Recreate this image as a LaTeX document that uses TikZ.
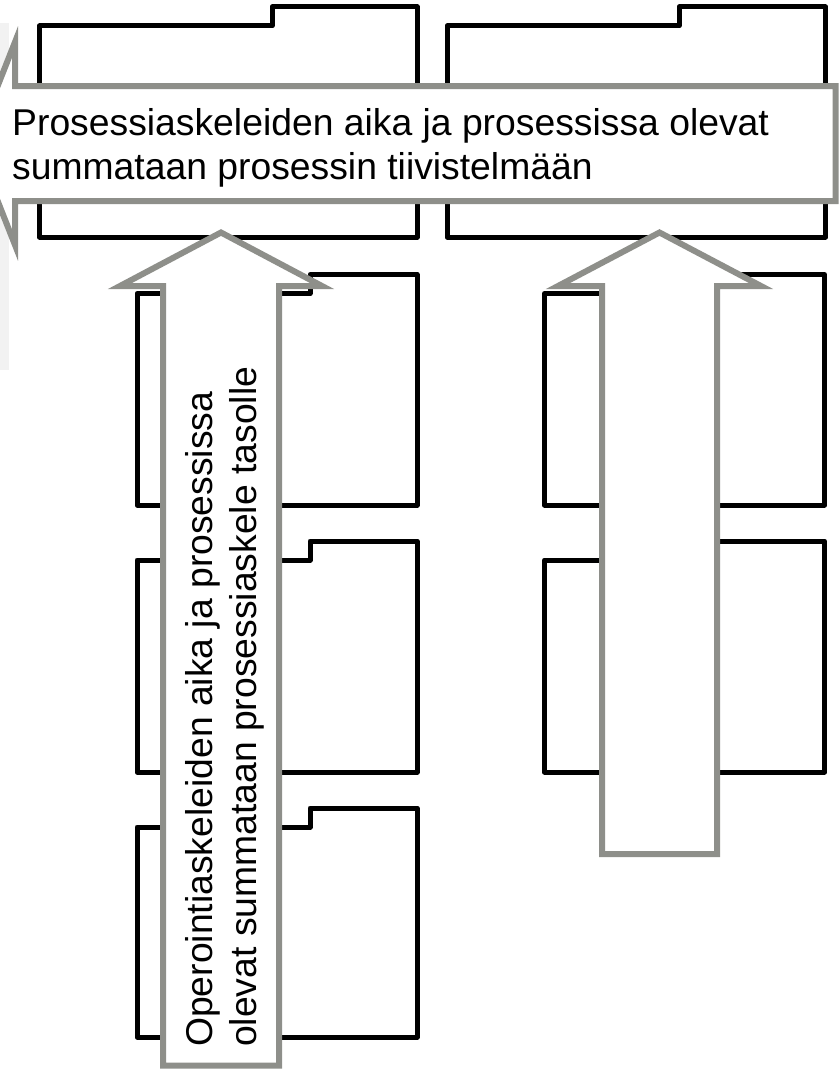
\documentclass[tikz,border=0pt]{standalone}
\usepackage{fontspec}
\setmainfont{Liberation Sans}
\definecolor{arrowgray}{RGB}{142,143,138}
\definecolor{panelgray}{RGB}{242,242,242}
\tikzset{
  folder/.style={draw=black, line width=5pt, line join=round, fill=white},
  bigarrow/.style={draw=arrowgray, line width=6pt, line join=miter, fill=white},
  lbl/.style={inner sep=0pt, font=\fontsize{37.3}{44.5}\selectfont}
}
% L R B T S Y : left, right, body top, tab top, tab step x, bottom
\newcommand{\myfolder}[6]{%
  \draw[folder] (#1,#6) -- (#1,#3) -- (#5,#3) -- (#5,#4) -- (#2,#4) -- (#2,#6) -- cycle;}
\begin{document}
\begin{tikzpicture}[x=1pt,y=-1pt]
\useasboundingbox (0,0) rectangle (840,1073);
\clip (0,0) rectangle (840,1073);
\fill[panelgray] (0,23) rectangle (9,370);
% big folders
\myfolder{39.5}{417}{26}{7}{272}{237}
\myfolder{447}{825.5}{26}{7}{679}{237}
% left column
\myfolder{137}{417}{293.5}{274.5}{310}{505}
\myfolder{137}{417}{560}{541}{310}{772}
\myfolder{137}{417}{827}{808}{310}{1037}
% right column
\myfolder{544.5}{824.5}{293.5}{274.5}{716}{505}
\myfolder{544.5}{824.5}{560}{541}{716}{772}
% arrows
\draw[bigarrow] (835.5,86) -- (15,86) -- (15,42) -- (-25,143.5) -- (15,245) -- (15,201) -- (835.5,201) -- cycle;
\draw[bigarrow] (163,1065.5) -- (163,286) -- (120,286) -- (221,232.5) -- (322,286) -- (279,286) -- (279,1065.5) -- cycle;
\draw[bigarrow] (602,854) -- (602,286) -- (558,286) -- (659.5,232.5) -- (761,286) -- (717,286) -- (717,854) -- cycle;
% texts
\node[lbl, anchor=base west] (htext) at (12,135) {\begin{tabular}[t]{@{}l@{}}Prosessiaskeleiden aika ja prosessissa olevat\\summataan prosessin tiivistelmään\end{tabular}};
\node[lbl, anchor=base west, rotate=90] (vtext) at (212,1047) {\begin{tabular}[t]{@{}l@{}}Operointiaskeleiden aika ja prosessissa\\olevat summataan prosessiaskele tasolle\end{tabular}};
\end{tikzpicture}
\end{document}
